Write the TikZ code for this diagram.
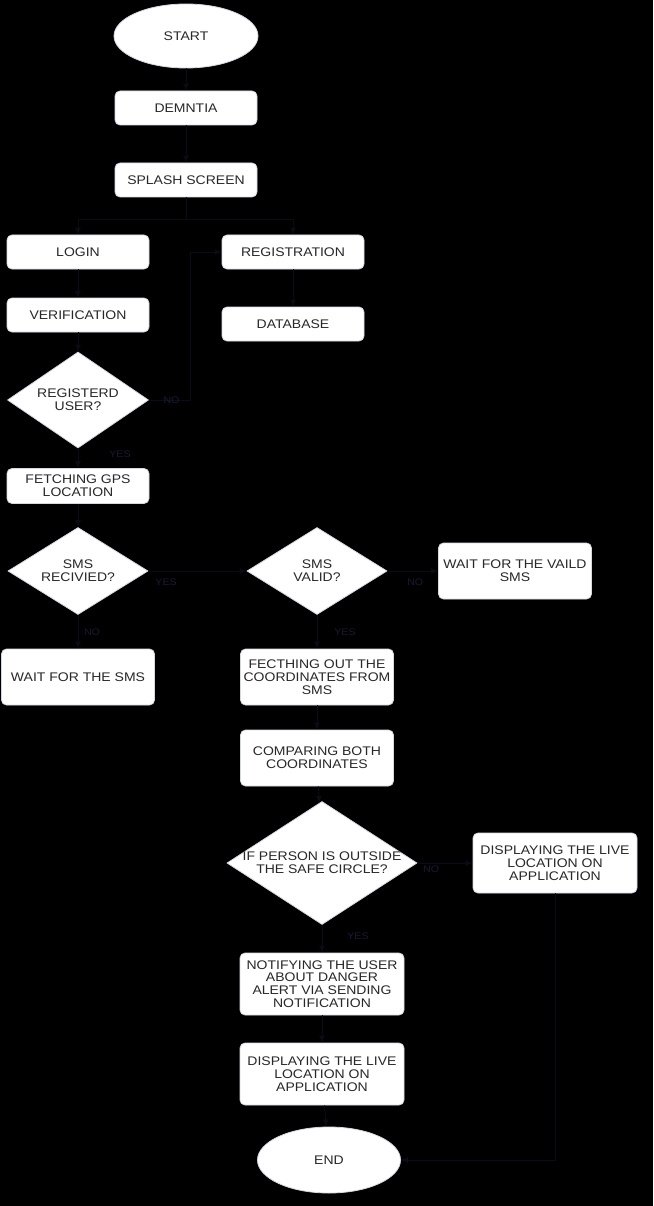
\documentclass[tikz,border=0pt]{standalone}
\usepackage{fontspec}
\setmainfont{Liberation Sans}[FakeStretch=1.12]
\usetikzlibrary{shapes.geometric,arrows.meta}
\definecolor{conn}{RGB}{11,11,22}
\definecolor{lbl}{RGB}{26,26,52}
\definecolor{txt}{RGB}{40,40,40}
\definecolor{halo}{RGB}{215,215,228}
\begin{document}
\begin{tikzpicture}[x=1pt,y=-1pt,
  every node/.style={font=\fontsize{12.5}{12.8}\selectfont, text=txt},
  box/.style n args={2}{draw=halo, line width=0.8pt, fill=white, rounded corners=5pt, align=center, inner sep=0pt, minimum width=#1, minimum height=#2},
  oval/.style n args={2}{ellipse, draw=halo, line width=0.8pt, fill=white, inner sep=0pt, minimum width=#1, minimum height=#2},
  dec/.style n args={3}{diamond, draw=halo, line width=0.8pt, fill=white, inner sep=0pt, minimum width=#1, minimum height=#2, label={[align=center, text=txt, font=\fontsize{12.5}{12.8}\selectfont]center:#3}},
  conn/.style={draw=conn, line width=1pt, -{Latex[length=7pt,width=6pt]}},
  lab/.style={text=lbl, font=\fontsize{9.5}{10}\selectfont}]
\fill[black] (0,0) rectangle (653,1206);
\useasboundingbox (0,0) rectangle (653,1206);

\node[oval={144pt}{64pt}] (start) at (186,36) {START};
\node[box={142pt}{34pt}] (dem) at (186,108) {DEMNTIA};
\node[box={142pt}{34pt}] (splash) at (186,180) {SPLASH SCREEN};
\node[box={142pt}{34pt}] (login) at (78,252) {LOGIN};
\node[box={142pt}{34pt}] (reg) at (293,252) {REGISTRATION};
\node[box={142pt}{34pt}] (verif) at (78,315) {VERIFICATION};
\node[box={142pt}{34pt}] (db) at (293,324) {DATABASE};
\node[dec={141pt}{96pt}{REGISTERD\\USER?}] (regq) at (78,400) {};
\node[box={142pt}{35pt}] (gps) at (78,486) {FETCHING GPS\\LOCATION};
\node[dec={140pt}{87pt}{SMS\\RECIVIED?}] (smsq) at (78,571) {};
\node[dec={140pt}{87pt}{SMS\\VALID?}] (validq) at (317,571) {};
\node[box={153pt}{56pt}] (waitv) at (515,571) {WAIT FOR THE VAILD\\SMS};
\node[box={153pt}{56pt}] (waits) at (78,677) {WAIT FOR THE SMS};
\node[box={153pt}{56pt}] (fetch) at (317,677) {FECTHING OUT THE\\COORDINATES FROM\\SMS};
\node[box={153pt}{56pt}] (comp) at (317,758) {COMPARING BOTH\\COORDINATES};
\node[dec={190pt}{123pt}{IF PERSON IS OUTSIDE\\THE SAFE CIRCLE?}] (person) at (322,863) {};
\node[box={164pt}{60pt}] (dispr) at (555,863) {DISPLAYING THE LIVE\\LOCATION ON\\APPLICATION};
\node[box={164pt}{62pt}] (notify) at (322,984) {NOTIFYING THE USER\\ABOUT DANGER\\ALERT VIA SENDING\\NOTIFICATION};
\node[box={164pt}{62pt}] (dispb) at (322,1074) {DISPLAYING THE LIVE\\LOCATION ON\\APPLICATION};
\node[oval={143pt}{66pt}] (end) at (329,1160) {END};

\draw[conn] (start) -- (dem);
\draw[conn] (dem) -- (splash);
\coordinate (split) at (186,220);
\draw[conn] (splash.south) -- (split) -| (login.north);
\draw[conn] (split) -| (reg.north);
\draw[conn] (login) -- (verif);
\draw[conn] (verif) -- (regq.north);
\draw[conn] (regq.south) -- node[lab, pos=0.3, xshift=42pt] {YES} (gps.north);
\coordinate (regturn) at (190,400);
\draw[conn] (regq.east) -- node[lab, pos=0.55] {NO} (regturn) |- (reg.west);
\draw[conn] (reg) -- (db);
\draw[conn] (gps) -- (smsq.north);
\draw[conn] (smsq.east) -- node[lab, pos=0.18, yshift=-11pt] {YES} (validq.west);
\draw[conn] (smsq.south) -- node[lab, pos=0.5, xshift=14pt] {NO} (waits.north);
\draw[conn] (validq.east) -- node[lab, pos=0.55, yshift=-11pt] {NO} (waitv.west);
\draw[conn] (validq.south) -- node[lab, pos=0.5, xshift=28pt] {YES} (fetch.north);
\draw[conn] (fetch) -- (comp);
\draw[conn] (comp) -- (person);
\draw[conn] (person.east) -- node[lab, pos=0.25, yshift=-6pt] {NO} (dispr.west);
\draw[conn] (person.south) -- node[lab, pos=0.4, xshift=36pt] {YES} (notify.north);
\draw[conn] (notify) -- (dispb);
\draw[conn] (dispb) -- (end);
\draw[conn] (dispr.south) |- (end.east);
\end{tikzpicture}
\end{document}
